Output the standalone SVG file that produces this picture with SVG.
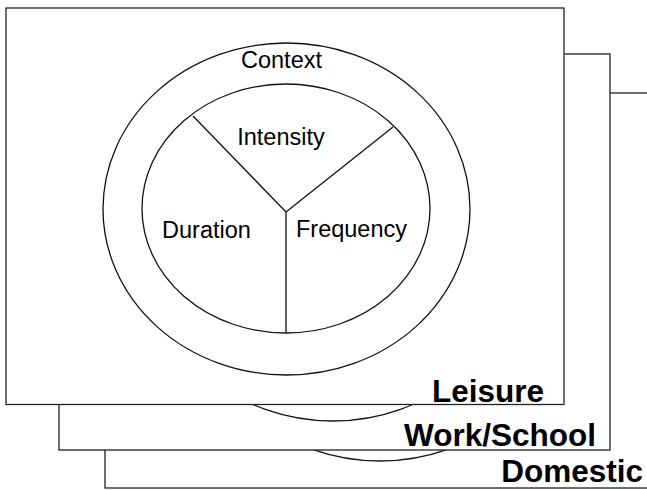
<svg xmlns="http://www.w3.org/2000/svg" width="647" height="490" viewBox="0 0 647 490">
<style>
.panel{fill:#fff;stroke:#222;stroke-width:1.3}
.ring{fill:none;stroke:#111;stroke-width:1.3}
.lbl{font-family:"Liberation Sans",Arial,sans-serif;font-size:23.5px;fill:#000;text-anchor:middle}
.ctx{font-family:"Liberation Sans",Arial,sans-serif;font-size:31.5px;font-weight:bold;fill:#000;text-anchor:end}
</style>
<rect width="647" height="490" fill="#fff"/>
<g id="domestic">
<rect class="panel" x="105" y="93" width="560" height="395"/>
<ellipse class="ring" cx="380" cy="295" rx="183.5" ry="166"/>
</g>
<g id="work-school">
<rect class="panel" x="59" y="54" width="551" height="396"/>
<ellipse class="ring" cx="333" cy="255" rx="183.5" ry="166"/>
</g>
<g id="leisure">
<rect class="panel" x="6" y="8" width="558" height="396.5"/>
<ellipse class="ring" cx="286.5" cy="209" rx="183.5" ry="166"/>
<ellipse class="ring" cx="286" cy="208.5" rx="144" ry="124.5"/>
</g>
<g id="connectors">
<line class="ring" x1="286" y1="212" x2="193" y2="116"/>
<line class="ring" x1="286" y1="212" x2="393" y2="127"/>
<line class="ring" x1="286" y1="212" x2="286" y2="333"/>
</g>
<g id="labels">
<text class="lbl" x="281.5" y="68">Context</text>
<text class="lbl" x="281" y="145">Intensity</text>
<text class="lbl" x="206.5" y="238">Duration</text>
<text class="lbl" x="351.5" y="237">Frequency</text>
<text class="ctx" x="544" y="402">Leisure</text>
<text class="ctx" x="596" y="446">Work/School</text>
<text class="ctx" x="643" y="482">Domestic</text>
</g>
</svg>
